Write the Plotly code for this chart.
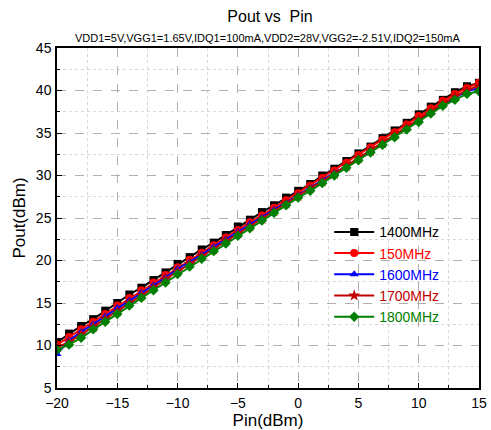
import plotly.graph_objects as go

pin = list(range(-20, 16))

p1400 = [10.4, 11.4, 12.3, 13.1, 14.1, 15.0, 16.0, 16.8, 17.7, 18.6, 19.6, 20.4, 21.3, 22.1, 23.0, 24.0, 24.8, 25.7, 26.5, 27.4,
         28.2, 29.0, 30.0, 30.8, 31.7, 32.6, 33.4, 34.4, 35.3, 36.2, 37.2, 38.1, 38.9, 39.8, 40.5, 40.9]
p150 = [10.1, 11.0, 11.9, 12.8, 13.7, 14.7, 15.6, 16.5, 17.4, 18.3, 19.2, 20.1, 20.9, 21.8, 22.7, 23.6, 24.5, 25.3, 26.2, 27.1,
        27.9, 28.8, 29.7, 30.6, 31.5, 32.4, 33.3, 34.2, 35.1, 36.0, 37.0, 37.9, 38.8, 39.6, 40.3, 40.9]
p1600 = [9.0, 10.6, 11.6, 12.5, 13.4, 14.4, 15.3, 16.2, 17.1, 18.0, 19.0, 19.8, 20.7, 21.6, 22.5, 23.4, 24.3, 25.1, 26.0, 26.8,
         27.7, 28.6, 29.4, 30.3, 31.1, 32.0, 33.0, 33.8, 34.7, 35.6, 36.6, 37.5, 38.4, 39.2, 39.9, 40.3]
p1700 = [9.8, 10.4, 11.3, 12.2, 13.1, 14.0, 15.0, 15.9, 16.8, 17.8, 18.7, 19.6, 20.5, 21.3, 22.3, 23.2, 24.0, 24.9, 25.8, 26.7,
         27.6, 28.5, 29.3, 30.2, 31.1, 32.0, 32.9, 33.8, 34.8, 35.7, 36.6, 37.6, 38.5, 39.3, 40.0, 40.6]
p1800 = [9.5, 10.1, 10.9, 11.9, 12.8, 13.7, 14.7, 15.6, 16.5, 17.4, 18.4, 19.3, 20.2, 21.1, 22.0, 22.9, 23.8, 24.7, 25.6, 26.5,
         27.4, 28.2, 29.1, 30.0, 30.9, 31.8, 32.7, 33.6, 34.5, 35.4, 36.3, 37.3, 38.2, 38.9, 39.6, 39.9]

series = [
    ("1400MHz", p1400, "#000000", "square"),
    ("150MHz", p150, "#FF0000", "circle"),
    ("1600MHz", p1600, "#0000FF", "triangle-up"),
    ("1700MHz", p1700, "#C00000", "star"),
    ("1800MHz", p1800, "#008000", "diamond"),
]

FONT = "Arial, Liberation Sans"

fig = go.Figure()
for name, ys, col, sym in series:
    fig.add_trace(go.Scatter(
        x=pin, y=ys, mode="lines+markers",
        name=f'<span style="color:{col}">{name}</span>',
        line=dict(color=col, width=2),
        marker=dict(symbol=sym, color=col, size=8 if sym != "star" else 9),
    ))

axis_common = dict(
    showline=True, linecolor="black", linewidth=1.5, mirror=True,
    ticks="inside", ticklen=5, tickcolor="black",
    showgrid=True, gridcolor="#B0B0B0", griddash="dash", gridwidth=1,
    minor=dict(ticks="inside", ticklen=3, tickcolor="black", showgrid=True,
               gridcolor="#D8D8D8", griddash="dot", gridwidth=1),
    zeroline=False, automargin=False,
    tickfont=dict(family=FONT, size=14, color="black"),
)

fig.update_xaxes(range=[-20, 15], dtick=5, minor_dtick=2.5, ticklabelstandoff=1,
                 title=dict(text="Pin(dBm)", font=dict(family=FONT, size=17, color="black"), standoff=2),
                 **axis_common)
fig.update_yaxes(range=[5, 45], dtick=5, minor_dtick=2.5, ticklabelstandoff=1,
                 title=dict(text="Pout(dBm)", font=dict(family=FONT, size=17, color="black"), standoff=6),
                 **axis_common)

fig.update_layout(
    width=491, height=430,
    margin=dict(l=57, r=12, t=48, b=42),
    paper_bgcolor="white", plot_bgcolor="white",
    title=dict(text="Pout vs  Pin", x=0.55, xanchor="center", y=0.975, yanchor="top",
               font=dict(family=FONT, size=16, color="black")),
    annotations=[dict(text="VDD1=5V,VGG1=1.65V,IDQ1=100mA,VDD2=28V,VGG2=-2.51V,IDQ2=150mA",
                      xref="paper", yref="paper", x=0.5, y=1.0, yanchor="bottom", xanchor="center",
                      yshift=2, showarrow=False,
                      font=dict(family=FONT, size=11, color="black"))],
    legend=dict(x=0.645, y=0.505, xanchor="left", yanchor="top", bgcolor="rgba(0,0,0,0)",
                font=dict(family=FONT, size=14), itemwidth=40, tracegroupgap=4),
    showlegend=True,
)

fig.write_html("out.html")
